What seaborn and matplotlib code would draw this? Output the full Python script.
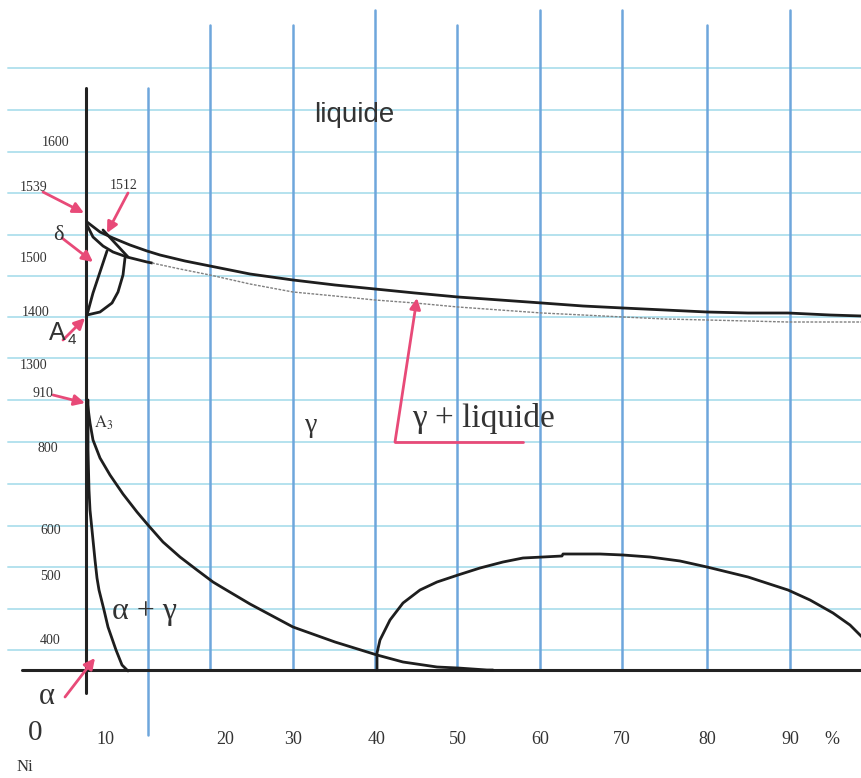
import matplotlib
matplotlib.use("Agg")
from matplotlib import pyplot as plt
import seaborn as sns
import numpy as np
import pandas as pd

sns.set_style("white")
plt.rcParams['font.family'] = ['Liberation Serif', 'DejaVu Serif']
plt.rcParams['mathtext.fontset'] = 'stix'

# Fe-Ni diagram (x to the right, y downwards, picture units)
liquidus_x = [87, 100, 113, 130, 147, 160, 185, 210, 250, 293, 335, 375, 415, 458, 500, 542, 583, 623, 665, 707, 748, 788, 830, 862]
liquidus_y = [222, 232, 238, 245, 251, 255, 261, 266, 274, 280, 285, 289, 293, 297, 300, 303, 306, 308, 310, 312, 313, 313, 315, 316]

solidus_x = [87, 93, 103, 113, 127, 147, 152]
solidus_y = [225, 237, 246, 252, 257, 262, 263]
# thin dotted continuation
solidus2_x = [152, 180, 210, 250, 293, 335, 375, 415, 458, 500, 542, 583, 623, 665, 707, 748, 788, 830, 862]
solidus2_y = [263, 269, 275, 284, 292, 296, 300, 303, 307, 310, 313, 315, 317, 319, 320, 321, 322, 322, 322]

peritectic_x = [103, 128]
peritectic_y = [230, 257]

delta_left_x = [87, 93, 100, 107]
delta_left_y = [315, 293, 272, 251]
delta_right_x = [87, 100, 112, 118, 123, 125]
delta_right_y = [315, 312, 303, 292, 275, 258]

a3_x = [87, 90, 93, 100, 110, 123, 137, 148, 163, 180, 197, 213, 223, 250, 293, 335, 377, 403, 437, 458, 487, 493]
a3_y = [400, 423, 440, 458, 475, 494, 512, 525, 542, 557, 570, 582, 588, 604, 627, 642, 655, 662, 667, 668, 670, 670]

alpha_x = [88, 88, 89, 90, 93, 95, 97, 99, 104, 108, 116, 122, 128]
alpha_y = [400, 450, 490, 510, 540, 560, 578, 590, 610, 627, 650, 665, 671]

dome_x = [377, 377, 380, 390, 403, 420, 437, 458, 480, 503, 523, 543, 562, 563, 570, 600, 623, 650, 680, 707, 748, 788, 810, 833, 850, 862]
dome_y = [670, 653, 640, 620, 603, 590, 582, 575, 568, 562, 558, 557, 556, 554, 554, 554, 555, 557, 561, 567, 577, 590, 600, 613, 625, 637]

temp_labels = ["1600", "1539", "1512", "1500", "1400", "1300", "910", "800", "600", "500", "400"]
temp_pos = [(42, 142), (20, 187), (110, 185), (20, 258), (22, 312), (20, 365), (33, 393), (38, 448), (40, 530), (40, 577), (40, 641)]

ni_labels = ["10", "20", "30", "40", "50", "60", "70", "80", "90", "%"]
ni_pos = [105, 225, 293, 377, 458, 540, 622, 707, 790, 832]

# graph paper
paper_cols = [148, 210, 293, 375, 457, 540, 622, 707, 790]
paper_tops = [88, 25, 25, 10, 25, 10, 10, 25, 10]
paper_rows = [68, 110, 152, 193, 235, 276, 317, 358, 400, 442, 484, 526, 567, 609, 650]

pink = "#e84a78"
ink = "#333333"

fig = plt.figure(figsize=(8.62, 7.78), dpi=100)
ax = fig.add_axes([0, 0, 1, 1])

for y in paper_rows:
    ax.plot([8, 862], [y, y], color="#b4e2ee", lw=1.4, zorder=0)
for x, top in zip(paper_cols, paper_tops):
    bottom = 735 if x == 148 else 670
    ax.plot([x, x], [top, bottom], color="#6ea6dc", lw=1.8, zorder=0)

# axes of the diagram
ax.plot([86, 86], [88, 693], color="#222222", lw=2.2)
ax.plot([22, 862], [670, 670], color="#222222", lw=2.2)

def curve(xs, ys, **kw):
    df = pd.DataFrame({"x": xs, "y": ys})
    sns.lineplot(data=df, x="x", y="y", sort=False, estimator=None, ax=ax, **kw)

for xs, ys in [(liquidus_x, liquidus_y), (solidus_x, solidus_y), (peritectic_x, peritectic_y),
               (delta_left_x, delta_left_y), (delta_right_x, delta_right_y),
               (a3_x, a3_y), (alpha_x, alpha_y), (dome_x, dome_y)]:
    curve(xs, ys, color="#1e1e1e", lw=2.0)
curve(solidus2_x, solidus2_y, color="#808080", lw=1.0, linestyle=(0, (2, 1)))

# pink arrows
def arrow(tail, head):
    ax.annotate("", xy=head, xytext=tail,
                arrowprops=dict(arrowstyle="-|>", color=pink, lw=2, mutation_scale=16,
                                shrinkA=0, shrinkB=0))

arrow((43, 192), (84, 213))
arrow((128, 193), (107, 233))
arrow((62, 238), (93, 262))
arrow((63, 340), (85, 318))
arrow((53, 395), (85, 403))
arrow((65, 697), (95, 658))
ax.plot([523, 395], [442, 442], color=pink, lw=2)
arrow((395, 442), (417, 298))

# text
for t, (x, y) in zip(temp_labels, temp_pos):
    ax.text(x, y, t, fontsize=10, ha="left", va="center", color=ink)
for t, x in zip(ni_labels, ni_pos):
    ax.text(x, 740, t, fontsize=13, ha="center", va="center", color=ink)
ax.text(35, 733, "0", fontsize=21, ha="center", va="center", color=ink)
ax.text(25, 767, "Ni", fontsize=12, ha="center", va="center", color=ink)

sans = ["Liberation Sans", "DejaVu Sans"]
ax.text(354, 115, "liquide", fontsize=20, ha="center", va="center", color=ink, family=sans)
ax.text(58, 235, "δ", fontsize=16, ha="center", va="center", color=ink)
ax.text(49, 333, "A", fontsize=18, ha="left", va="center", color=ink, family=sans)
ax.text(68, 340, "4", fontsize=11, ha="left", va="center", color=ink, family=sans)
ax.text(94, 423, r"$\mathrm{A}_{3}$", fontsize=12, ha="left", va="center", color=ink)
ax.text(311, 425, "γ", fontsize=20, ha="center", va="center", color=ink)
ax.text(412, 418, "γ + liquide", fontsize=24, ha="left", va="center", color=ink)
ax.text(112, 612, "α + γ", fontsize=23, ha="left", va="center", color=ink)
ax.text(47, 697, "α", fontsize=22, ha="center", va="center", color=ink)

ax.set_xlim(0, 862)
ax.set_ylim(778, 0)
ax.axis("off")

plt.savefig("out.png", dpi=100)
